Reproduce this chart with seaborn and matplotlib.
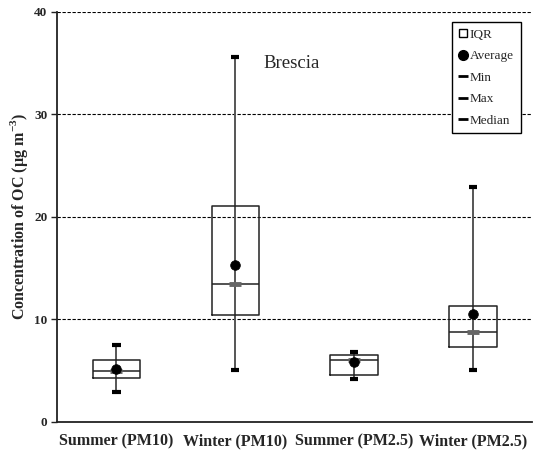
import matplotlib
matplotlib.use("Agg")
import matplotlib.pyplot as plt
from matplotlib.lines import Line2D
import seaborn as sns
import pandas as pd

# Data
categories = ["Summer (PM10)", "Winter (PM10)", "Summer (PM2.5)", "Winter (PM2.5)"]
mins = [2.9, 5.1, 4.2, 5.1]
q1 = [4.3, 10.4, 4.6, 7.3]
medians = [5.0, 13.4, 6.0, 8.8]
q3 = [6.0, 21.1, 6.5, 11.3]
maxs = [7.5, 35.6, 6.8, 22.9]
means = [5.2, 15.3, 5.8, 10.5]

sns.set_style("white")
plt.rcParams['font.family'] = ['Liberation Serif', 'DejaVu Serif']

fig = plt.figure(figsize=(5.33, 4.58), dpi=100)
ax = fig.add_axes([0.107, 0.079, 0.892, 0.895])

positions = list(range(len(categories)))
stats = [{"whislo": lo, "q1": a, "med": m, "q3": b, "whishi": hi, "label": c}
         for c, lo, a, m, b, hi in zip(categories, mins, q1, medians, q3, maxs)]

# min-max line runs through the box
ax.vlines(positions, mins, maxs, color="#555555", linewidth=1.4, zorder=2)

ax.bxp(stats, positions=positions, widths=0.4, showfliers=False,
       boxprops=dict(color="#222222", linewidth=1.1),
       whiskerprops=dict(color="#555555", linewidth=0),
       capprops=dict(color="black", linewidth=3, solid_capstyle="butt"),
       capwidths=0.07,
       medianprops=dict(color="#222222", linewidth=1.1), zorder=3)

# small grey median tick at the centre
ax.scatter(positions, medians, marker="_", s=80, color="#666666", linewidths=3.5, zorder=4)

means_df = pd.DataFrame({"x": positions, "mean": means})
sns.scatterplot(data=means_df, x="x", y="mean", color="black", s=48,
                edgecolor="black", ax=ax, zorder=5, legend=False)

ax.set_xlim(-0.5, 3.5)
ax.set_ylim(0, 40)
ax.set_yticks([0, 10, 20, 30, 40])
ax.set_yticklabels(["0", "10", "20", "30", "40"], fontweight="bold", fontsize=9.5)
ax.yaxis.grid(True, linestyle=(0, (3, 1.5)), color="black", linewidth=0.8)
ax.set_axisbelow(True)

ax.set_xticks([0.5, 1.5, 2.5])
ax.set_xticklabels([])
ax.set_xticks(positions, minor=True)
ax.set_xticklabels(categories, minor=True, fontweight="bold", fontsize=11.5)
ax.tick_params(axis="x", which="minor", length=0, pad=8)
ax.tick_params(axis="x", which="major", direction="out", length=4, width=1, color="#444444")
ax.tick_params(axis="y", direction="out", length=4, width=1, color="#222222", pad=3, left=True)
ax.set_xlabel("")

for s in ["top", "right"]:
    ax.spines[s].set_visible(False)
for s in ["left", "bottom"]:
    ax.spines[s].set_color("#222222")
    ax.spines[s].set_linewidth(1.3)

ax.set_ylabel("Concentration of OC (\u00b5g m$^{\\mathregular{-3}}$)", fontweight="bold",
              fontsize=11.5, labelpad=3)

ax.text(1.47, 35.0, "Brescia", fontsize=13.5, ha="center", va="center")

handles = [
    Line2D([], [], linestyle="none", marker="s", markersize=6, markerfacecolor="white", markeredgecolor="black"),
    Line2D([], [], linestyle="none", marker="o", markersize=7, color="black"),
    Line2D([], [], linestyle="none", marker="_", markersize=7, markeredgewidth=2, color="black"),
    Line2D([], [], linestyle="none", marker="_", markersize=7, markeredgewidth=2, color="black"),
    Line2D([], [], linestyle="none", marker="_", markersize=7, markeredgewidth=2, color="black"),
]
leg = ax.legend(handles, ["IQR", "Average", "Min", "Max", "Median"], loc="upper right",
                bbox_to_anchor=(0.975, 0.975), fontsize=9.5, frameon=True, fancybox=False,
                handlelength=0.7, handletextpad=0.2, labelspacing=0.7, borderpad=0.5,
                borderaxespad=0)
leg.get_frame().set_edgecolor("black")
leg.get_frame().set_linewidth(1)
leg.get_frame().set_alpha(1)

fig.savefig("out.png", dpi=100)
